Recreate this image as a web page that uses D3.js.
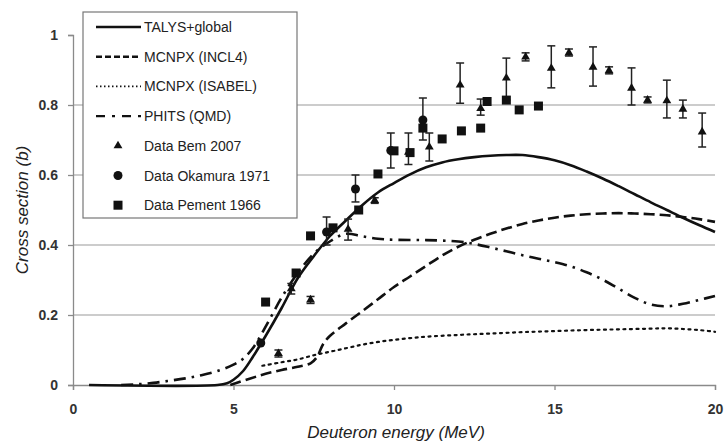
<!DOCTYPE html>
<html>
<head>
<meta charset="utf-8">
<script src="https://cdn.jsdelivr.net/npm/d3@7"></script>
<style>
  html, body { margin: 0; padding: 0; background: #fff; }
  svg { display: block; font-family: "Liberation Sans", Arial, sans-serif; }
</style>
</head>
<body>
<svg id="chart" width="725" height="441"></svg>
<script>
// Axis ticks
const xTicks = [0, 5, 10, 15, 20];
const yTicks = [0, 0.2, 0.4, 0.6, 0.8, 1];
const gridValues = [0.2, 0.4, 0.6, 0.8];

// Model curves: [energy (MeV), cross section (b)]
const talysGlobal = [
  [0.5,0],[4.5,0],[4.8,0.005],[5.0,0.015],[5.3,0.04],[5.6,0.08],[6.0,0.14],[6.5,0.22],
  [7.0,0.305],[7.5,0.368],[8.0,0.425],[8.5,0.47],[9.0,0.513],[9.5,0.55],[10,0.577],
  [10.5,0.602],[11,0.622],[11.5,0.636],[12,0.645],[12.5,0.651],[13,0.655],[13.5,0.657],
  [14,0.657],[14.5,0.651],[15,0.642],[15.5,0.628],[16,0.61],[16.5,0.59],[17,0.568],
  [17.5,0.545],[18,0.522],[18.5,0.5],[19,0.478],[19.5,0.457],[20,0.437]
];
const mcnpxIncl4 = [
  [4.9,0],[5.5,0.018],[6.0,0.032],[6.5,0.043],[7.0,0.052],[7.4,0.062],[7.6,0.08],
  [7.8,0.118],[8.0,0.14],[8.5,0.176],[9.0,0.21],[9.5,0.245],[10,0.28],[10.5,0.31],
  [11,0.34],[11.5,0.37],[12,0.395],[12.5,0.415],[13,0.432],[13.5,0.447],[14,0.46],
  [14.5,0.47],[15,0.478],[15.5,0.484],[16,0.488],[16.5,0.49],[17,0.491],[17.5,0.49],
  [18,0.488],[18.5,0.485],[19,0.48],[19.5,0.474],[20,0.466]
];
const mcnpxIsabel = [
  [5.9,0.055],[6.5,0.065],[7.0,0.073],[7.5,0.085],[8.0,0.095],[8.5,0.105],[9.0,0.115],
  [9.5,0.123],[10,0.129],[10.5,0.134],[11,0.138],[12,0.143],[13,0.147],[14,0.151],
  [15,0.154],[16,0.157],[17,0.159],[18,0.161],[18.5,0.162],[19,0.16],[19.5,0.157],[20,0.152]
];
const phitsQmd = [
  [1.5,0],[2.0,0.002],[2.5,0.006],[3.0,0.012],[3.5,0.019],[4.0,0.028],[4.5,0.04],
  [5.0,0.058],[5.3,0.075],[5.6,0.105],[5.9,0.15],[6.2,0.2],[6.5,0.25],[7.0,0.32],
  [7.5,0.375],[8.0,0.41],[8.5,0.432],[9.0,0.425],[9.5,0.418],[10,0.415],[11,0.414],
  [12,0.41],[12.5,0.403],[13,0.393],[13.5,0.382],[14,0.371],[14.5,0.361],[15,0.351],
  [15.5,0.339],[16,0.322],[16.5,0.301],[17,0.275],[17.5,0.249],[18,0.23],[18.5,0.225],
  [19,0.232],[19.5,0.243],[20,0.254]
];

// Measurements: [energy, value, low, high]
const dataBem2007 = [
  [6.4,0.09,0.08,0.10],[6.8,0.275,0.26,0.29],[7.4,0.243,0.233,0.253],
  [8.57,0.445,0.414,0.474],[9.4,0.527,0.519,0.535],[10.45,0.665,0.63,0.72],
  [11.1,0.68,0.64,0.72],[12.06,0.857,0.805,0.92],[12.7,0.79,0.771,0.817],
  [13.5,0.877,0.814,0.934],[14.1,0.937,0.926,0.949],[14.9,0.905,0.849,0.969],
  [15.45,0.949,0.94,0.96],[16.2,0.908,0.854,0.966],[16.7,0.898,0.889,0.909],
  [17.4,0.848,0.80,0.906],[17.9,0.814,0.806,0.823],[18.5,0.812,0.763,0.871],
  [19.0,0.788,0.763,0.814],[19.6,0.723,0.68,0.777]
];
const dataOkamura1971 = [
  [5.85,0.12,null,null],[7.9,0.437,0.40,0.48],[8.8,0.56,0.523,0.60],
  [9.9,0.67,0.62,0.72],[10.9,0.757,0.70,0.82]
];
const dataPement1966 = [
  [6.0,0.237],[6.95,0.32],[7.4,0.426],[8.1,0.449],[8.9,0.50],[9.5,0.603],[10.0,0.669],
  [10.5,0.664],[10.9,0.734],[11.5,0.703],[12.1,0.726],[12.7,0.734],[12.9,0.81],
  [13.5,0.814],[13.9,0.786],[14.5,0.797]
];

const svg = d3.select("#chart");
const x = d3.scaleLinear().domain([0, 20]).range([73, 715]);
const y = d3.scaleLinear().domain([0, 1]).range([385, 35]);

// Horizontal gridlines
svg.append("g").selectAll("line").data(gridValues).join("line")
  .attr("x1", x(0)).attr("x2", x(20))
  .attr("y1", d => y(d)).attr("y2", d => y(d))
  .attr("stroke", "#9a9a9a").attr("stroke-width", 1.2);

// Axes
const xAxis = svg.append("g").attr("transform", `translate(0,${y(0)})`)
  .call(d3.axisBottom(x).tickValues(xTicks).tickFormat(d3.format("d")).tickSize(5).tickPadding(14));
const yAxis = svg.append("g").attr("transform", `translate(${x(0)},0)`)
  .call(d3.axisLeft(y).tickValues(yTicks).tickFormat(d => d === 0 || d === 1 ? d3.format("d")(d) : d3.format(".1f")(d)).tickSize(5).tickPadding(10));
[xAxis, yAxis].forEach(g => {
  g.select(".domain").attr("stroke", "#8a8a8a").attr("stroke-width", 1.3);
  g.selectAll(".tick line").attr("stroke", "#8a8a8a").attr("stroke-width", 1.3);
  g.selectAll(".tick text").attr("fill", "#333").attr("font-size", 14).attr("font-weight", "bold")
    .attr("font-family", "Liberation Sans, Arial, sans-serif");
});

// Axis titles
svg.append("text").attr("x", x(10) + 2).attr("y", 438).attr("text-anchor", "middle")
  .attr("font-size", 17).attr("font-style", "italic").attr("fill", "#222")
  .text("Deuteron energy (MeV)");
svg.append("text").attr("transform", `translate(28,${y(0.5)}) rotate(-90)`)
  .attr("text-anchor", "middle").attr("font-size", 17).attr("font-style", "italic").attr("fill", "#222")
  .text("Cross section (b)");

// Model curves
const line = d3.line().x(d => x(d[0])).y(d => y(d[1])).curve(d3.curveCatmullRom.alpha(0.5));
const curves = [
  { data: mcnpxIsabel, dash: "2,4.5", width: 2.2, cap: "round" },
  { data: mcnpxIncl4, dash: "11,5", width: 2.6, cap: "butt" },
  { data: phitsQmd, dash: "12,6,2.5,6", width: 2.6, cap: "butt" },
  { data: talysGlobal, dash: null, width: 2.6, cap: "butt" }
];
svg.append("g").selectAll("path").data(curves).join("path")
  .attr("d", c => line(c.data))
  .attr("fill", "none").attr("stroke", "#111")
  .attr("stroke-width", c => c.width)
  .attr("stroke-linecap", c => c.cap)
  .attr("stroke-dasharray", c => c.dash);

// Error bars
const bars = dataBem2007.concat(dataOkamura1971.filter(d => d[2] !== null));
const eb = svg.append("g").attr("stroke", "#222").attr("stroke-width", 1.5);
bars.forEach(d => {
  const cx = x(d[0]);
  eb.append("line").attr("x1", cx).attr("x2", cx).attr("y1", y(d[2])).attr("y2", y(d[3]));
  eb.append("line").attr("x1", cx - 4).attr("x2", cx + 4).attr("y1", y(d[2])).attr("y2", y(d[2]));
  eb.append("line").attr("x1", cx - 4).attr("x2", cx + 4).attr("y1", y(d[3])).attr("y2", y(d[3]));
});

// Markers
const tri = d3.symbol().type(d3.symbolTriangle).size(34);
svg.append("g").selectAll("path").data(dataBem2007).join("path")
  .attr("d", tri).attr("transform", d => `translate(${x(d[0])},${y(d[1])})`).attr("fill", "#111");
svg.append("g").selectAll("circle").data(dataOkamura1971).join("circle")
  .attr("cx", d => x(d[0])).attr("cy", d => y(d[1])).attr("r", 4.5).attr("fill", "#111");
svg.append("g").selectAll("rect").data(dataPement1966).join("rect")
  .attr("x", d => x(d[0]) - 4.5).attr("y", d => y(d[1]) - 4.5)
  .attr("width", 9).attr("height", 9).attr("fill", "#111");

// Legend
const legend = svg.append("g");
legend.append("rect").attr("x", 83).attr("y", 12).attr("width", 214).attr("height", 206)
  .attr("fill", "#fff").attr("stroke", "#777").attr("stroke-width", 1.2);
const legendItems = [
  { label: "TALYS+global", kind: "line", dash: null, width: 2.6 },
  { label: "MCNPX (INCL4)", kind: "line", dash: "6,3", width: 2.4 },
  { label: "MCNPX (ISABEL)", kind: "line", dash: "1.5,2.5", width: 1.8 },
  { label: "PHITS (QMD)", kind: "line", dash: "9,7,3,7", width: 2.4 },
  { label: "Data Bem 2007", kind: "tri" },
  { label: "Data Okamura 1971", kind: "circle" },
  { label: "Data Pement 1966", kind: "square" }
];
const rowY = i => 27 + i * 29.7;
legendItems.forEach((it, i) => {
  const yy = rowY(i);
  if (it.kind === "line") {
    legend.append("line").attr("x1", 96).attr("x2", 141).attr("y1", yy).attr("y2", yy)
      .attr("stroke", "#111").attr("stroke-width", it.width).attr("stroke-dasharray", it.dash);
  } else if (it.kind === "tri") {
    legend.append("path").attr("d", tri).attr("transform", `translate(118,${yy})`).attr("fill", "#111");
  } else if (it.kind === "circle") {
    legend.append("circle").attr("cx", 118).attr("cy", yy).attr("r", 4.5).attr("fill", "#111");
  } else {
    legend.append("rect").attr("x", 113.5).attr("y", yy - 4.5).attr("width", 9).attr("height", 9).attr("fill", "#111");
  }
  legend.append("text").attr("x", 144).attr("y", yy + 5).attr("font-size", 14).attr("fill", "#222")
    .text(it.label);
});
</script>
</body>
</html>
